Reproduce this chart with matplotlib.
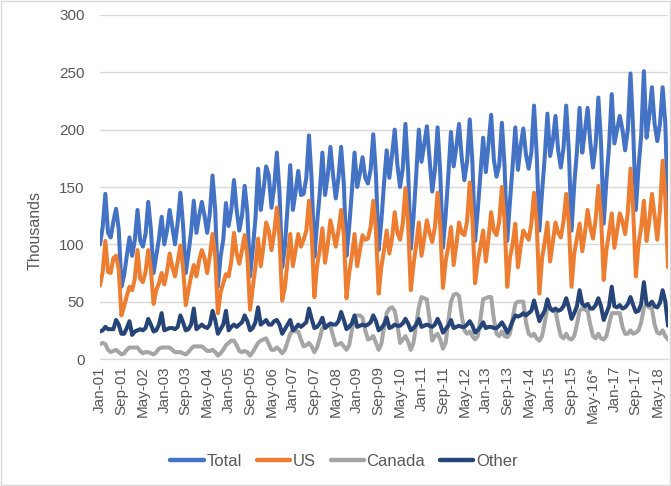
import matplotlib
matplotlib.use("Agg")
import matplotlib.pyplot as plt
from matplotlib.patches import Rectangle

# Monthly arrivals (thousands), Jan-01 .. Sep-18, one row per year
total = [
    100, 115, 144, 110, 106, 120, 131, 113, 63, 73, 90, 106,
    90, 104, 130, 103, 98, 109, 137, 113, 75, 90, 105, 124,
    100, 112, 130, 115, 100, 119, 145, 117, 75, 92, 111, 138,
    110, 125, 137, 125, 110, 127, 160, 130, 63, 89, 104, 136,
    116, 130, 156, 130, 112, 125, 151, 128, 72, 95, 122, 166,
    130, 147, 168, 160, 132, 150, 180, 145, 80, 98, 132, 169,
    130, 146, 164, 143, 144, 158, 195, 156, 89, 118, 144, 180,
    143, 160, 185, 160, 140, 158, 185, 153, 90, 115, 146, 180,
    150, 162, 176, 158, 153, 165, 196, 160, 95, 120, 153, 182,
    158, 178, 200, 169, 150, 166, 205, 164, 96, 123, 160, 200,
    172, 187, 203, 174, 146, 165, 202, 162, 97, 125, 160, 198,
    168, 185, 205, 176, 156, 172, 209, 171, 103, 130, 161, 193,
    163, 187, 213, 174, 159, 169, 206, 168, 103, 137, 168, 202,
    165, 186, 201, 178, 166, 180, 221, 178, 112, 146, 176, 214,
    177, 190, 212, 182, 167, 184, 221, 181, 112, 152, 181, 219,
    180, 199, 219, 189, 167, 187, 228, 189, 118, 155, 186, 231,
    188, 200, 212, 200, 182, 200, 249, 200, 130, 167, 195, 251,
    193, 212, 237, 205, 190, 205, 237, 205, 124,
]

us = [
    64, 76, 103, 76, 75, 88, 90, 78, 38, 46, 55, 63,
    60, 70, 95, 70, 67, 76, 95, 78, 48, 60, 66, 75,
    65, 76, 92, 80, 72, 85, 99, 80, 47, 60, 72, 82,
    72, 86, 95, 88, 75, 90, 109, 90, 40, 58, 66, 74,
    72, 85, 110, 92, 83, 95, 108, 90, 43, 62, 80, 105,
    81, 98, 119, 112, 95, 110, 132, 105, 51, 62, 85, 109,
    81, 95, 109, 98, 104, 112, 138, 110, 54, 81, 95, 114,
    84, 100, 121, 110, 98, 112, 130, 108, 53, 75, 90, 109,
    81, 95, 108, 104, 105, 115, 138, 112, 57, 80, 95, 112,
    92, 105, 128, 110, 104, 118, 149, 118, 60, 82, 100, 119,
    90, 105, 121, 110, 102, 115, 145, 115, 62, 85, 98, 115,
    82, 100, 119, 110, 108, 120, 154, 122, 66, 85, 98, 112,
    85, 105, 128, 112, 108, 120, 150, 120, 63, 88, 100, 118,
    80, 98, 112, 108, 104, 118, 145, 118, 57, 88, 102, 119,
    85, 102, 119, 110, 106, 120, 144, 118, 63, 92, 105, 118,
    94, 110, 130, 115, 105, 122, 151, 125, 69, 95, 110, 127,
    97, 112, 127, 120, 109, 128, 166, 130, 72, 100, 115, 138,
    103, 120, 144, 125, 104, 130, 173, 140, 80,
]

canada = [
    13, 14, 13, 8, 6, 7, 8, 6, 4, 5, 8, 10,
    10, 10, 10, 7, 5, 6, 6, 5, 4, 6, 9, 10,
    10, 10, 10, 8, 6, 6, 6, 5, 4, 6, 9, 11,
    11, 11, 11, 9, 7, 7, 8, 6, 3, 5, 8, 12,
    14, 16, 16, 12, 7, 6, 7, 6, 3, 6, 10, 14,
    16, 17, 18, 13, 8, 8, 10, 8, 5, 8, 15, 22,
    25, 24, 24, 17, 11, 12, 14, 11, 6, 10, 18, 27,
    28, 30, 29, 20, 12, 13, 14, 11, 8, 12, 25, 36,
    38, 38, 36, 25, 17, 18, 20, 14, 8, 13, 28, 40,
    44, 45, 42, 30, 14, 17, 20, 15, 8, 14, 30, 45,
    54, 53, 52, 35, 16, 20, 22, 17, 9, 14, 33, 50,
    56, 57, 55, 38, 25, 22, 24, 20, 17, 20, 35, 52,
    53, 54, 54, 35, 22, 20, 24, 20, 19, 22, 35, 48,
    50, 50, 50, 32, 22, 20, 22, 18, 16, 20, 32, 45,
    45, 43, 42, 30, 20, 18, 22, 18, 17, 20, 30, 42,
    44, 43, 42, 30, 20, 18, 22, 18, 17, 20, 30, 40,
    40, 40, 40, 28, 22, 22, 25, 22, 23, 25, 32, 45,
    47, 45, 44, 30, 23, 22, 25, 20, 17,
]

other = [
    24, 25, 28, 26, 26, 26, 34, 30, 22, 22, 27, 33,
    21, 24, 25, 26, 25, 27, 35, 30, 24, 25, 30, 40,
    25, 26, 27, 27, 26, 28, 38, 32, 25, 26, 30, 44,
    26, 28, 30, 28, 27, 30, 42, 34, 22, 26, 30, 42,
    25, 28, 30, 28, 30, 32, 38, 33, 25, 27, 32, 45,
    30, 32, 34, 30, 30, 33, 34, 30, 22, 26, 30, 34,
    25, 27, 30, 28, 30, 32, 44, 35, 27, 28, 31, 36,
    27, 29, 31, 30, 30, 33, 41, 34, 26, 28, 31, 38,
    28, 29, 30, 29, 30, 32, 38, 33, 25, 27, 30, 36,
    27, 28, 30, 29, 29, 31, 35, 31, 25, 27, 30, 35,
    28, 29, 30, 29, 28, 30, 35, 30, 23, 26, 29, 34,
    27, 28, 29, 28, 28, 30, 33, 29, 23, 25, 28, 32,
    27, 28, 28, 27, 27, 29, 32, 28, 23, 27, 33, 38,
    37, 38, 40, 38, 40, 42, 51, 42, 33, 38, 42, 52,
    44, 42, 44, 42, 43, 46, 53, 45, 35, 40, 46, 60,
    48, 46, 48, 44, 44, 47, 53, 46, 34, 40, 46, 63,
    46, 45, 47, 44, 45, 48, 54, 47, 41, 42, 48, 67,
    48, 47, 50, 46, 45, 49, 60, 50, 29,
]

tick_labels = [
    "Jan-01", "Sep-01", "May-02", "Jan-03", "Sep-03", "May-04", "Jan-05",
    "Sep-05", "May-06", "Jan-07", "Sep-07", "May-08", "Jan-09", "Sep-09",
    "May-10", "Jan-11", "Sep-11", "May-12", "Jan-13", "Sep-13", "May-14",
    "Jan-15", "Sep-15", "May-16*", "Jan-17", "Sep-17", "May-18",
]
tick_step = 8

series = [
    ("Total", total, "#4472C4"),
    ("US", us, "#ED7D31"),
    ("Canada", canada, "#A5A5A5"),
    ("Other", other, "#264478"),
]

plt.rcParams["font.family"] = ["Liberation Sans", "DejaVu Sans"]
text_color = "#595959"
grid_color = "#D9D9D9"

fig = plt.figure(figsize=(6.71, 4.86), dpi=100)
fig.patches.append(Rectangle((0.002, 0.002), 0.996, 0.996, transform=fig.transFigure,
                             fill=False, edgecolor=grid_color, linewidth=1.0))
ax = fig.add_axes([100 / 671, 1 - 359 / 486, 568 / 671, 344 / 486])

x = list(range(len(total)))
for name, vals, color in series:
    ax.plot(x, vals, color=color, linewidth=2.9, label=name,
            solid_joinstyle="round", solid_capstyle="round")

ax.set_xlim(0, len(total) - 1)
ax.set_ylim(0, 300)
ax.set_yticks(range(0, 301, 50))
ax.set_xticks(range(0, tick_step * len(tick_labels), tick_step))
ax.set_xticklabels(tick_labels, rotation=90)

ax.grid(axis="y", color=grid_color, linewidth=1.0)
ax.set_axisbelow(True)
for side in ("top", "right", "left"):
    ax.spines[side].set_visible(False)
ax.spines["bottom"].set_color(grid_color)
ax.spines["bottom"].set_linewidth(1.0)
ax.tick_params(axis="both", length=0, labelsize=11, colors=text_color)
ax.tick_params(axis="y", pad=11)
ax.tick_params(axis="x", pad=5)

fig.text(35 / 671, 1 - 231 / 486, "Thousands", rotation=90, ha="center",
         va="center", fontsize=11.5, color=text_color)

leg = fig.legend(loc="center", bbox_to_anchor=(344 / 671, 1 - 461 / 486), ncol=4,
                 frameon=False, fontsize=12, handlelength=2.0, handletextpad=0.15,
                 columnspacing=0.9)
for line in leg.get_lines():
    line.set_linewidth(3.2)
for t in leg.get_texts():
    t.set_color(text_color)

fig.savefig("out.png", dpi=100)
